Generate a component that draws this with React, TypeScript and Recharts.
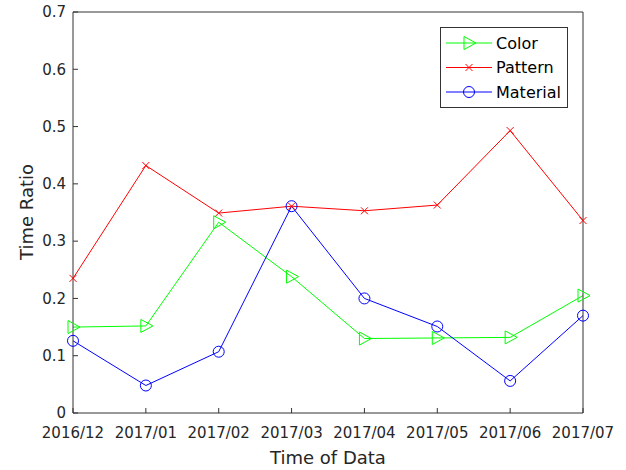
import { Legend, Line, LineChart, XAxis, YAxis } from 'recharts';

const months = ['2016/12', '2017/01', '2017/02', '2017/03', '2017/04', '2017/05', '2017/06', '2017/07'];
const colorRatio = [0.15, 0.152, 0.333, 0.238, 0.13, 0.131, 0.132, 0.205];
const patternRatio = [0.235, 0.432, 0.349, 0.361, 0.353, 0.363, 0.493, 0.336];
const materialRatio = [0.126, 0.048, 0.107, 0.361, 0.2, 0.151, 0.056, 0.17];
const yTicks = [0, 0.1, 0.2, 0.3, 0.4, 0.5, 0.6, 0.7];

const data = months.map((month, i) => ({
  month,
  color: colorRatio[i],
  pattern: patternRatio[i],
  material: materialRatio[i],
}));

const AXIS = '#333333';
const TEXT = '#262626';
const FONT = '"DejaVu Sans", sans-serif';

type DotProps = { cx?: number; cy?: number; index?: number };

function triangleMark(cx: number, cy: number, key?: string | number) {
  return (
    <path
      key={key}
      d={`M${cx - 5},${cy - 6.5}L${cx + 7},${cy}L${cx - 5},${cy + 6.5}Z`}
      fill="none"
      stroke="#00ff00"
      strokeWidth={1}
    />
  );
}

function crossMark(cx: number, cy: number, key?: string | number) {
  return (
    <path
      key={key}
      d={`M${cx - 3.5},${cy - 3.5}L${cx + 3.5},${cy + 3.5}M${cx - 3.5},${cy + 3.5}L${cx + 3.5},${cy - 3.5}`}
      fill="none"
      stroke="#ff0000"
      strokeWidth={1}
    />
  );
}

function circleMark(cx: number, cy: number, key?: string | number) {
  return <circle key={key} cx={cx} cy={cy} r={5.5} fill="none" stroke="#0000ff" strokeWidth={1} />;
}

const legendItems = [
  { name: 'Color', stroke: '#00ff00', mark: triangleMark },
  { name: 'Pattern', stroke: '#ff0000', mark: crossMark },
  { name: 'Material', stroke: '#0000ff', mark: circleMark },
];

function BoxLegend() {
  return (
    <svg width={128} height={81} style={{ display: 'block' }}>
      <rect x={0.5} y={0.5} width={127} height={80} fill="#ffffff" stroke={AXIS} strokeWidth={1} />
      {legendItems.map((item, i) => {
        const y = 16 + i * 24.5;
        return (
          <g key={item.name}>
            <line x1={6} x2={52} y1={y} y2={y} stroke={item.stroke} strokeWidth={1} />
            {item.mark(29, y)}
            <text x={56} y={y} dominantBaseline="central" fontSize={16} fontFamily={FONT} fill="#000">
              {item.name}
            </text>
          </g>
        );
      })}
    </svg>
  );
}

export default function App() {
  return (
    <div style={{ position: 'absolute', left: 0, top: 0, width: 626, height: 470, background: '#ffffff' }}>
      <LineChart width={626} height={470} data={data} margin={{ top: 11, right: 42, bottom: 0, left: 0 }}>
        <XAxis
          dataKey="month"
          height={57}
          stroke={AXIS}
          tickSize={-5}
          tickMargin={19}
          tick={{ fontSize: 15, fill: TEXT, fontFamily: FONT }}
          interval={0}
          label={{
            content: () => (
              <text x={328} y={457} textAnchor="middle" dominantBaseline="central" fontSize={18} fontFamily={FONT} fill={TEXT}>
                Time of Data
              </text>
            ),
          }}
        />
        <XAxis xAxisId="top" dataKey="month" orientation="top" height={1} stroke={AXIS} tickSize={-5} tick={false} interval={0} />
        <YAxis
          domain={[0, 0.7]}
          ticks={yTicks}
          width={73}
          stroke={AXIS}
          tickSize={-5}
          tickMargin={12}
          tick={{ fontSize: 15, fill: TEXT, fontFamily: FONT }}
          tickFormatter={(v: number) => (v === 0 ? '0' : v.toFixed(1))}
          label={{
            content: () => (
              <text
                x={26}
                y={212}
                transform="rotate(-90 26 212)"
                textAnchor="middle"
                dominantBaseline="central"
                fontSize={18}
                fontFamily={FONT}
                fill={TEXT}
              >
                Time Ratio
              </text>
            ),
          }}
        />
        <YAxis yAxisId="right" orientation="right" domain={[0, 0.7]} ticks={yTicks} width={1} stroke={AXIS} tickSize={-5} tick={false} />
        <Legend
          layout="vertical"
          align="center"
          verticalAlign="middle"
          content={() => <BoxLegend />}
          wrapperStyle={{ position: 'absolute', left: 440, top: 27, width: 128, height: 81 }}
        />
        <Line
          dataKey="color"
          stroke="#00ff00"
          strokeWidth={1}
          isAnimationActive={false}
          dot={(p: DotProps) => triangleMark(p.cx ?? 0, p.cy ?? 0, `c${p.index}`)}
        />
        <Line
          dataKey="pattern"
          stroke="#ff0000"
          strokeWidth={1}
          isAnimationActive={false}
          dot={(p: DotProps) => crossMark(p.cx ?? 0, p.cy ?? 0, `p${p.index}`)}
        />
        <Line
          dataKey="material"
          stroke="#0000ff"
          strokeWidth={1}
          isAnimationActive={false}
          dot={(p: DotProps) => circleMark(p.cx ?? 0, p.cy ?? 0, `m${p.index}`)}
        />
      </LineChart>
    </div>
  );
}
